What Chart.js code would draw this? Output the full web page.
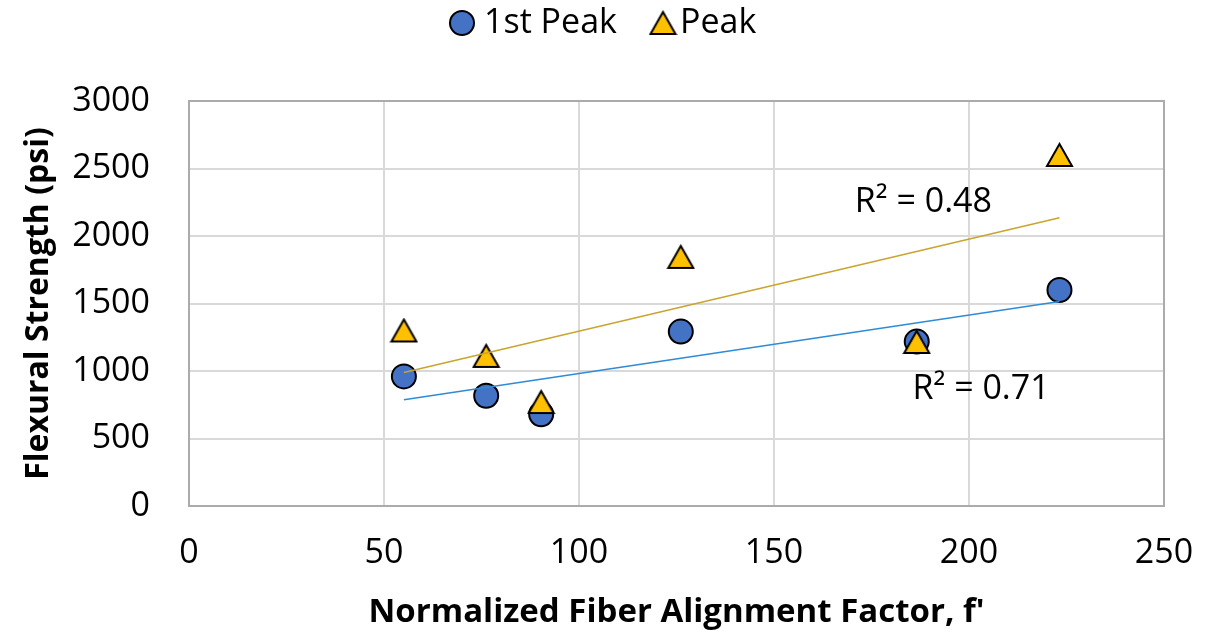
<!DOCTYPE html>
<html>
<head>
<meta charset="utf-8">
<script src="https://cdn.jsdelivr.net/npm/chart.js@4.4.1/dist/chart.umd.min.js"></script>
<style>
  html, body { margin: 0; padding: 0; background: #fff; }
  #wrap { width: 1208px; height: 634px; }
</style>
</head>
<body>
<div id="wrap"><canvas id="strengthChart" width="1208" height="634"></canvas></div>
<script>
// fiber alignment factor f' for each beam
const alignFactor = [55.1, 76.2, 90.3, 126.1, 186.6, 223.2];
// flexural strength, psi
const firstPeak = [960, 817, 680, 1292, 1218, 1600];
const peakStrength = [1300, 1112, 770, 1845, 1215, 2600];
const seriesNames = ['1st Peak', 'Peak'];
const xTicks = [0, 50, 100, 150, 200, 250];
const yTicks = [0, 500, 1000, 1500, 2000, 2500, 3000];

const FONT = "'Open Sans', 'DejaVu Sans', sans-serif";
const BLUE = '#4472c4';
const GOLD = '#ffc000';

function linearFit(xs, ys) {
    const n = xs.length;
    const mx = xs.reduce((a, b) => a + b, 0) / n;
    const my = ys.reduce((a, b) => a + b, 0) / n;
    let sxy = 0, sxx = 0, syy = 0;
    for (let i = 0; i < n; i++) {
        sxy += (xs[i] - mx) * (ys[i] - my);
        sxx += (xs[i] - mx) ** 2;
        syy += (ys[i] - my) ** 2;
    }
    const slope = sxy / sxx;
    return { slope, intercept: my - slope * mx, r2: (sxy * sxy) / (sxx * syy) };
}

function toPoints(xs, ys) {
    return xs.map((x, i) => ({ x: x, y: ys[i] }));
}

function trendPoints(xs, fit) {
    const lo = Math.min(...xs), hi = Math.max(...xs);
    return [lo, hi].map(x => ({ x: x, y: fit.intercept + fit.slope * x }));
}

// triangle marker centred on its bounding box (the built-in one sits on its circumcentre)
function makeTriangle(w, h, fill) {
    const c = document.createElement('canvas');
    c.width = w + 4;
    c.height = h + 4;
    const g = c.getContext('2d');
    g.fillStyle = fill;
    g.strokeStyle = '#000';
    g.lineWidth = 2;
    g.lineJoin = 'miter';
    g.beginPath();
    g.moveTo(c.width / 2, 2);
    g.lineTo(c.width - 2, h + 2);
    g.lineTo(2, h + 2);
    g.closePath();
    g.fill();
    g.stroke();
    return c;
}
const triangleMark = makeTriangle(25, 22, GOLD);

const firstFit = linearFit(alignFactor, firstPeak);
const peakFit = linearFit(alignFactor, peakStrength);

// where the R² text sits, in axis units
const r2Labels = [
    { fit: peakFit, x: 188.3, y: 2253 },
    { fit: firstFit, x: 203.1, y: 861 }
];

const framePlugin = {
    id: 'frame',
    afterDatasetsDraw(chart) {
        const { ctx, chartArea: a } = chart;
        ctx.save();
        ctx.strokeStyle = '#ababab';
        ctx.lineWidth = 2;
        ctx.strokeRect(a.left, a.top, a.right - a.left, a.bottom - a.top);

        ctx.fillStyle = '#000';
        ctx.font = '34px ' + FONT;
        ctx.textAlign = 'center';
        ctx.textBaseline = 'middle';
        const xs = chart.scales.x, ys = chart.scales.y;
        r2Labels.forEach(l => {
            ctx.fillText('R\u00b2 = ' + l.fit.r2.toFixed(2), xs.getPixelForValue(l.x), ys.getPixelForValue(l.y));
        });
        ctx.restore();
    }
};

// legend row across the top
const legendPlugin = {
    id: 'topLegend',
    afterDraw(chart) {
        const { ctx } = chart;
        const items = [
            { ds: chart.data.datasets[0], mx: 462, tx: 484 },
            { ds: chart.data.datasets[1], mx: 663, tx: 680 }
        ];
        const y = 23;
        ctx.save();
        ctx.font = '34px ' + FONT;
        ctx.textBaseline = 'middle';
        items.forEach(it => {
            if (it.ds.pointStyle instanceof HTMLCanvasElement) {
                const img = it.ds.pointStyle;
                ctx.drawImage(img, it.mx - img.width / 2, y - img.height / 2);
            } else {
                ctx.fillStyle = it.ds.backgroundColor;
                ctx.strokeStyle = '#000';
                ctx.lineWidth = 2;
                ctx.beginPath();
                ctx.arc(it.mx, y, 12, 0, Math.PI * 2);
                ctx.fill();
                ctx.stroke();
            }
            ctx.fillStyle = '#000';
            ctx.fillText(it.ds.label, it.tx, y);
        });
        ctx.restore();
    }
};

const ctx = document.getElementById('strengthChart').getContext('2d');
new Chart(ctx, {
    type: 'scatter',
    data: {
        datasets: [
            {
                label: seriesNames[0],
                data: toPoints(alignFactor, firstPeak),
                backgroundColor: BLUE,
                borderColor: '#000',
                borderWidth: 2,
                pointStyle: 'circle',
                pointRadius: 12,
                order: 2
            },
            {
                label: seriesNames[1],
                data: toPoints(alignFactor, peakStrength),
                backgroundColor: GOLD,
                borderColor: '#000',
                pointStyle: triangleMark,
                pointRadius: 13,
                order: 1
            },
            {
                label: 'trend 1st',
                type: 'line',
                data: trendPoints(alignFactor, firstFit),
                borderColor: '#2f8bd6',
                borderWidth: 1.5,
                pointRadius: 0,
                fill: false,
                order: 0
            },
            {
                label: 'trend peak',
                type: 'line',
                data: trendPoints(alignFactor, peakFit),
                borderColor: '#c9a430',
                borderWidth: 1.5,
                pointRadius: 0,
                fill: false,
                order: 0
            }
        ]
    },
    options: {
        responsive: false,
        animation: false,
        layout: { padding: { top: 101, right: 44, left: 0, bottom: 0 } },
        plugins: {
            legend: { display: false },
            tooltip: { enabled: false }
        },
        scales: {
            x: {
                type: 'linear',
                min: xTicks[0],
                max: xTicks[xTicks.length - 1],
                afterBuildTicks: s => { s.ticks = xTicks.map(v => ({ value: v })); },
                afterFit: s => {
                    s.height = 128;
                    s.paddingLeft = 0;
                    s.paddingRight = 0;
                },
                grid: { color: '#d9d9d9', lineWidth: 2, drawTicks: false },
                border: { display: false },
                ticks: {
                    color: '#000',
                    padding: 27,
                    font: { family: FONT, size: 34 },
                    callback: v => String(v)
                },
                title: {
                    display: true,
                    text: "Normalized Fiber Alignment Factor, f'",
                    color: '#000',
                    padding: { top: 0, bottom: 2 },
                    font: { family: FONT, size: 33, weight: 'bold' }
                }
            },
            y: {
                type: 'linear',
                min: yTicks[0],
                max: yTicks[yTicks.length - 1],
                afterBuildTicks: s => { s.ticks = yTicks.map(v => ({ value: v })); },
                afterFit: s => { s.width = 189; },
                grid: { color: '#d9d9d9', lineWidth: 2, drawTicks: false },
                border: { display: false },
                ticks: {
                    color: '#000',
                    padding: 39,
                    font: { family: FONT, size: 34 },
                    callback: v => String(v)
                },
                title: {
                    display: true,
                    text: 'Flexural Strength (psi)',
                    color: '#000',
                    padding: { top: 20, bottom: 0 },
                    font: { family: FONT, size: 32, weight: 'bold' }
                }
            }
        }
    },
    plugins: [framePlugin, legendPlugin]
});
</script>
</body>
</html>
